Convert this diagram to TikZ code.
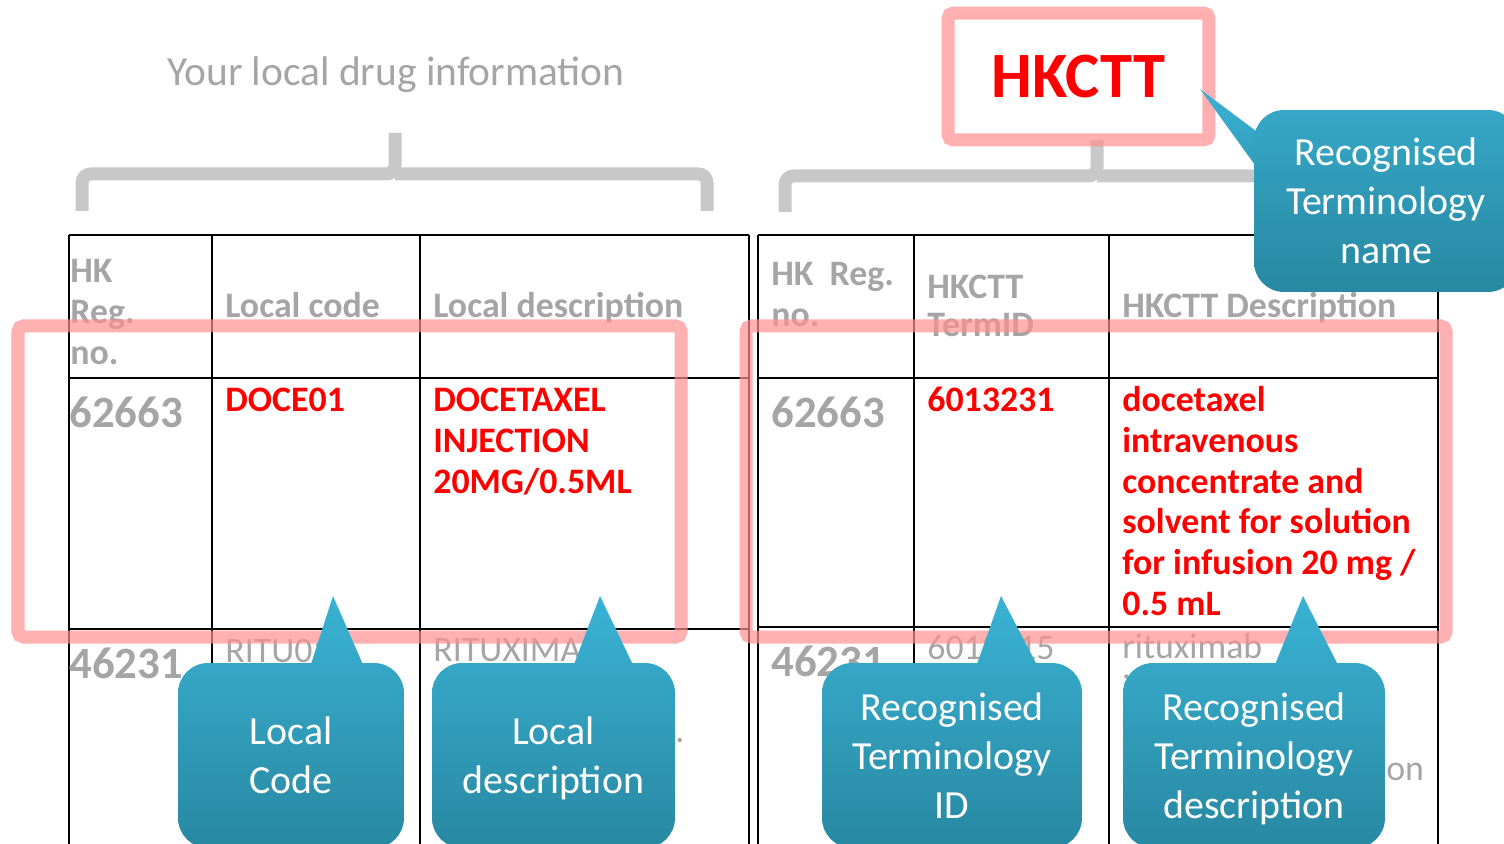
\documentclass[tikz,border=0pt]{standalone}
\usepackage{fontspec}
\setmainfont{Carlito}
\usetikzlibrary{positioning}
\definecolor{txtgray}{RGB}{165,165,165}
\definecolor{bracegray}{RGB}{200,200,200}
\definecolor{hlpink}{RGB}{255,142,142}
\definecolor{drugred}{RGB}{255,0,0}
\definecolor{tealtop}{RGB}{58,178,212}
\definecolor{tealmid}{RGB}{53,167,198}
\definecolor{tealbot}{RGB}{40,136,162}
\newcommand\nodepth[1]{\raisebox{0pt}[\height][0pt]{#1}}
\tikzset{
  cell/.style={inner sep=0pt, align=left, text=txtgray,
    font=\fontsize{20.4}{23.2}\selectfont\bfseries},
  cellreg/.style={cell, font=\fontsize{20.4}{23.2}\selectfont},
  regno/.style={cell, font=\fontsize{25.5}{29}\selectfont\bfseries},
  drug/.style={cell, text=drugred},
  title/.style={inner sep=0pt, text=txtgray, font=\fontsize{23.6}{27}\selectfont},
  grid/.style={line width=1.1pt, draw=black},
  brace/.style={line width=7.4pt, draw=bracegray, rounded corners=5pt},
  hilite/.style={draw=hlpink, draw opacity=0.7, line width=7.4pt, rounded corners=3pt},
  hkbox/.style={rectangle, draw=hlpink, draw opacity=0.7, line width=7.4pt, fill=white,
    rounded corners=3pt, minimum width=5.22cm, minimum height=2.54cm, text=drugred,
    font=\fontsize{36.8}{40}\selectfont\bfseries},
  bubble/.style={rectangle, rounded corners=0.6cm, top color=tealmid, bottom color=tealbot,
    text=white, align=center, inner sep=0pt, font=\fontsize{22.7}{27.8}\selectfont},
  bubbletip/.style={top color=tealtop, bottom color=tealmid},
}

\begin{document}
\begin{tikzpicture}[x=0.02cm, y=-0.02cm]
\useasboundingbox (0,0) rectangle (1504,844);

% ===================== BRACES =====================
\draw[brace] (82,211) |- (395,174) -- (395,133);
\draw[brace] (395,174) -| (707,211);
\draw[brace] (785,212) |- (1097,176) -- (1097,135);
\draw[brace] (1097,176) -| (1409,212);

\node[title] (loctitle) at (396,75) {Your local drug information};

% ===================== LEFT TABLE : LOCAL =====================
\foreach \x in {69,212,420,749} \draw[grid] (\x,235) -- (\x,850);
\foreach \y in {235,378,629} \draw[grid] (69,\y) -- (749,\y);

\node[cell, anchor=north west] (lreghd) at (70,259) {HK\\Reg.\\no.};
\node[cell, anchor=base west] (lcodehd) at (225,318) {Local code};
\node[cell, anchor=base west] (ldeschd) at (433,318) {Local description};

\node[regno, anchor=base west] (lreg1) at (69,427) {62663};
\node[drug, anchor=base west] (lcode1) at (225,411) {DOCE01};
\node[drug, anchor=north west] (ldesc1) at (433,388) {DOCETAXEL\\INJECTION\\20MG/0.5ML};

\node[regno, anchor=base west] (lreg2) at (69,678) {46231};
\node[cellreg, anchor=base west] (lcode2) at (225,662) {RITU01};
\node[cellreg, anchor=north west] (ldesc2) at (433,638) {RITUXIMAB\\INJECTION\\10MG/ML CONC.};

% ===================== RIGHT TABLE : HKCTT =====================
\foreach \x in {758,914,1109,1438} \draw[grid] (\x,235) -- (\x,850);
\foreach \y in {235,378,627} \draw[grid] (758,\y) -- (1438,\y);

\node[cell, anchor=north west] (rreghd) at (771,262) {HK\hspace{0.45em}Reg.\\no.};
\node[cell, anchor=north west, font=\fontsize{20.4}{21.5}\selectfont\bfseries] (rtermhd) at (927,275) {HKCTT\\TermID};
\node[cell, anchor=base west] (rdeschd) at (1122,318) {HKCTT Description};

\node[regno, anchor=base west] (rreg1) at (771,427) {62663};
\node[drug, anchor=base west] (rterm1) at (927,411) {6013231};
\node[drug, anchor=north west] (rdesc1) at (1122,386)
  {docetaxel\\intravenous\\concentrate and\\solvent for solution\\for infusion 20 mg /\\0.5 mL};

\node[regno, anchor=base west] (rreg2) at (771,676) {46231};
\node[cellreg, anchor=base west] (rterm2) at (927,659) {6013015};
\node[cellreg, anchor=north west] (rdesc2) at (1122,633)
  {rituximab\\intravenous\\concentrate for\\solution for injection};

% ===================== HIGHLIGHTS =====================
\draw[hilite] (18,326) rectangle (681,637);
\draw[hilite] (746,326) rectangle (1446,637);
\node[hkbox] (hkctt) at (1078.5,76.5) {HKCTT};

% ===================== CALLOUTS =====================
\coordinate (cbcodetip) at (333,596);
\coordinate (cbdesctip) at (600,596);
\coordinate (cbidtip) at (1001,596);
\coordinate (cbtdesctip) at (1303,596);
\coordinate (cbnametip) at (1200,89);

\path[bubbletip] (cbcodetip) -- (310,667) -- (364,667) -- cycle;
\path[bubbletip] (cbdesctip) -- (573,667) -- (634,667) -- cycle;
\path[bubbletip] (cbidtip) -- (976,667) -- (1038,667) -- cycle;
\path[bubbletip] (cbtdesctip) -- (1274,667) -- (1339,667) -- cycle;
\path[top color=tealtop, bottom color=tealmid!67!tealbot] (cbnametip) -- (1260,134) -- (1260,172) -- cycle;

\node[bubble, minimum width=4.52cm, minimum height=3.7cm] (cbcode) at (291,755.5) {Local\\Code};
\node[bubble, minimum width=4.86cm, minimum height=3.7cm] (cbdesc) at (553.5,755.5) {Local\\\nodepth{description}};
\node[bubble, minimum width=5.2cm, minimum height=3.7cm] (cbid) at (952,755.5) {Recognised\\Terminology\\ID};
\node[bubble, minimum width=5.24cm, minimum height=3.7cm] (cbtdesc) at (1254,755.5) {Recognised\\Terminology\\\nodepth{description}};
\node[bubble, minimum width=5.28cm, minimum height=3.64cm] (cbname) at (1386,201) {Recognised\\Terminology\\name};

\end{tikzpicture}
\end{document}
